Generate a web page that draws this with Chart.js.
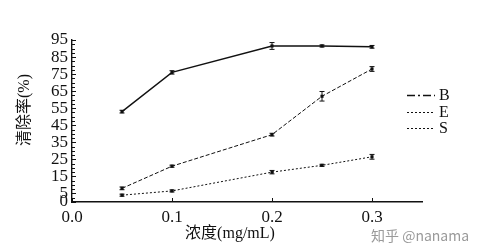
<!DOCTYPE html>
<html>
<head>
<meta charset="utf-8">
<script src="https://cdn.jsdelivr.net/npm/chart.js@4/dist/chart.umd.min.js"></script>
<style>
  body { margin: 0; background: #fff; }
  canvas { display: block; }
</style>
</head>
<body>
<canvas id="chart" width="483" height="251"></canvas>
<script>
// data
const conc = [0.05, 0.1, 0.2, 0.25, 0.3];
const seriesNames = ['B', 'E', 'S'];
const valB = [53, 76, 91.5, 91.5, 91];
const valE = [8, 21, 39.5, 62, 78];
const valS = [4, 6.5, 17.5, 21.5, 26.5];
const errB = [0.8, 1, 2, 0.6, 0.8];
const errE = [0.8, 0.6, 0.8, 2.8, 1.4];
const errS = [0.6, 0.6, 1, 0.6, 1.4];
const xTicks = [0.0, 0.1, 0.2, 0.3];
const yTicks = [0, 5, 15, 25, 35, 45, 55, 65, 75, 85, 95];

const serif = '"Liberation Serif", "DejaVu Serif", serif';
const cjk = '"Liberation Serif", "Noto Sans CJK SC", serif';

const values = [valB, valE, valS];
const errors = [errB, errE, errS];
const lineDash = [[], [4, 2], [2, 2]];
const legendDash = [[8, 3, 2, 3], [2, 2], [2, 2]];

const datasets = seriesNames.map((name, i) => ({
    label: name,
    data: conc.map((c, j) => ({ x: c, y: values[i][j] })),
    borderColor: '#111',
    backgroundColor: '#111',
    borderWidth: i === 0 ? 1.4 : 1,
    borderDash: lineDash[i],
    pointStyle: 'rect',
    pointRadius: 2.2,
    pointBorderWidth: 0,
    tension: 0
}));

// error bars, inward ticks, titles, legend
const extras = {
    id: 'extras',
    afterDatasetsDraw(chart) {
        const ctx = chart.ctx;
        const y = chart.scales.y;
        ctx.save();
        ctx.strokeStyle = '#111';
        ctx.lineWidth = 1;
        chart.data.datasets.forEach((ds, i) => {
            const meta = chart.getDatasetMeta(i);
            meta.data.forEach((pt, j) => {
                const v = values[i][j], e = errors[i][j];
                const top = y.getPixelForValue(v + e);
                const bot = y.getPixelForValue(v - e);
                ctx.beginPath();
                ctx.moveTo(pt.x, top); ctx.lineTo(pt.x, bot);
                ctx.moveTo(pt.x - 2.5, top); ctx.lineTo(pt.x + 2.5, top);
                ctx.moveTo(pt.x - 2.5, bot); ctx.lineTo(pt.x + 2.5, bot);
                ctx.stroke();
            });
        });
        ctx.restore();
    },
    afterDraw(chart) {
        const ctx = chart.ctx;
        const x = chart.scales.x, y = chart.scales.y;
        const area = chart.chartArea;
        ctx.save();
        ctx.strokeStyle = '#111';
        ctx.lineWidth = 1;
        // y ticks, every 2.5
        for (let v = 0; v <= 95; v += 2.5) {
            const py = Math.round(y.getPixelForValue(v)) + 0.5;
            const len = yTicks.includes(v) ? 4 : 3;
            ctx.beginPath();
            ctx.moveTo(area.left, py); ctx.lineTo(area.left + len, py);
            ctx.stroke();
        }
        xTicks.forEach(v => {
            const px = Math.round(x.getPixelForValue(v)) + 0.5;
            ctx.beginPath();
            ctx.moveTo(px, area.bottom); ctx.lineTo(px, area.bottom - 4);
            ctx.stroke();
        });

        // axis titles
        ctx.fillStyle = '#111';
        ctx.font = '16px ' + cjk;
        ctx.textAlign = 'center';
        ctx.textBaseline = 'middle';
        ctx.fillText('浓度(mg/mL)', 230, 234);
        ctx.save();
        ctx.translate(25, 110);
        ctx.rotate(-Math.PI / 2);
        ctx.fillText('清除率(%)', 0, 0);
        ctx.restore();

        // legend
        const ly = [95, 112, 128];
        seriesNames.forEach((name, i) => {
            ctx.save();
            ctx.lineWidth = i === 0 ? 1.4 : 1;
            ctx.setLineDash(legendDash[i]);
            ctx.beginPath();
            ctx.moveTo(407, ly[i] + 0.5); ctx.lineTo(435, ly[i] + 0.5);
            ctx.stroke();
            ctx.restore();
            ctx.font = '16px ' + serif;
            ctx.textAlign = 'left';
            ctx.fillText(name, 439, ly[i] + 1);
        });

        // watermark
        ctx.fillStyle = '#9a9a9a';
        ctx.font = '14px "Noto Sans CJK SC", sans-serif';
        ctx.textAlign = 'left';
        ctx.fillText('知乎 @nanama', 371, 236);
        ctx.restore();
    }
};

new Chart(document.getElementById('chart'), {
    type: 'line',
    data: { datasets: datasets },
    plugins: [extras],
    options: {
        responsive: false,
        animation: false,
        events: [],
        layout: { padding: { top: 40, right: 61, left: 0, bottom: 0 } },
        plugins: {
            legend: { display: false },
            tooltip: { enabled: false }
        },
        scales: {
            x: {
                type: 'linear',
                min: 0,
                max: 0.35,
                afterFit: s => { s.height = 49; },
                afterBuildTicks: s => { s.ticks = xTicks.map(v => ({ value: v })); },
                grid: { display: false, drawTicks: false },
                border: { color: '#111', width: 1.4 },
                ticks: {
                    color: '#111',
                    padding: 5,
                    font: { family: serif, size: 17 },
                    callback: v => v.toFixed(1)
                }
            },
            y: {
                min: 0,
                max: 95,
                afterFit: s => { s.width = 72; },
                afterBuildTicks: s => { s.ticks = yTicks.map(v => ({ value: v })); },
                grid: { display: false, drawTicks: false },
                border: { color: '#111', width: 1.4 },
                ticks: {
                    color: '#111',
                    padding: 4,
                    font: { family: serif, size: 17 },
                    autoSkip: false
                }
            }
        }
    }
});
</script>
</body>
</html>
